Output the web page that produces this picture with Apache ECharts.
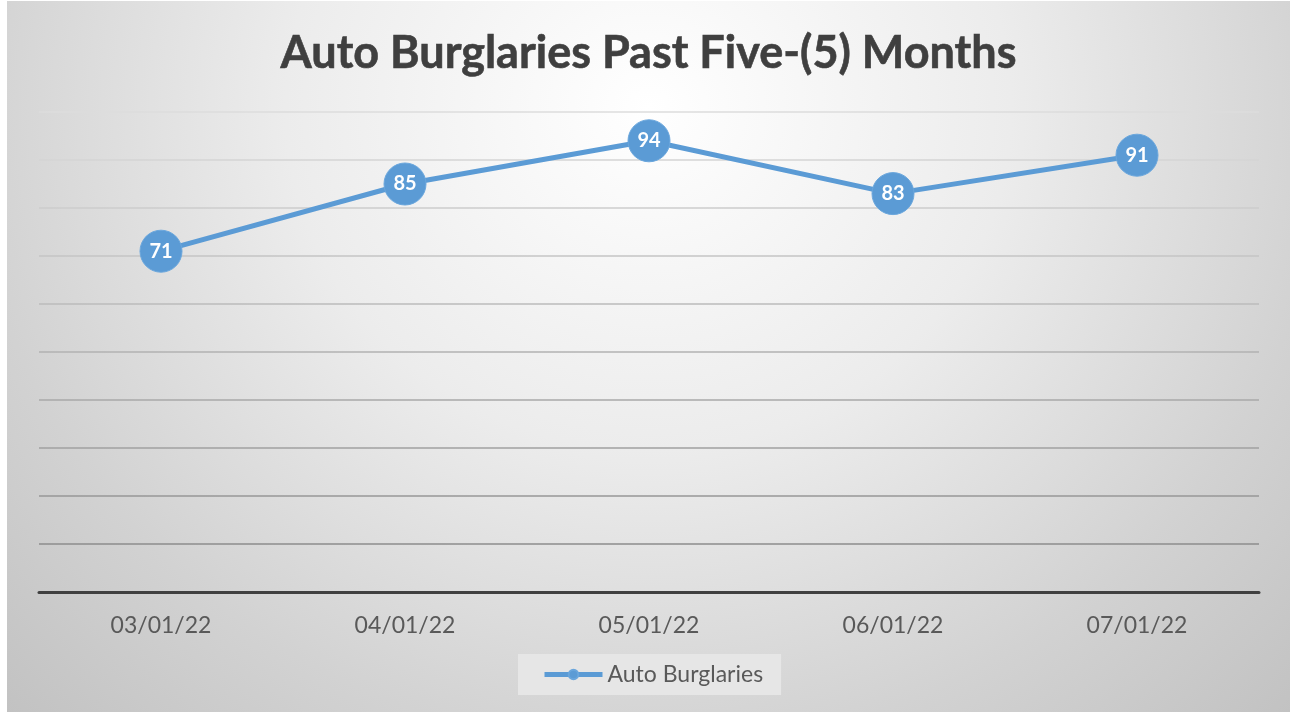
<!DOCTYPE html>
<html>
<head>
<meta charset="utf-8">
<title>Auto Burglaries</title>
<script src="https://cdn.jsdelivr.net/npm/echarts@6/dist/echarts.min.js"></script>
<style>
  html, body { margin: 0; padding: 0; background: #ffffff; }
  #chart {
    position: absolute;
    left: 7px;
    top: 1px;
    width: 1283px;
    height: 711px;
    background: radial-gradient(ellipse at 50% 15%, #ffffff 0%, #ececec 40%, #d2d2d2 75%, #c2c2c2 100%);
  }
</style>
</head>
<body>
<div id="chart"></div>
<script>
const months = ['03/01/22', '04/01/22', '05/01/22', '06/01/22', '07/01/22']
const burglaries = [71, 85, 94, 83, 91]
// gridlines go from dark at the bottom to light at the top
const gridColors = ['#8a8a8a', '#8c8c8c', '#979797', '#a0a0a0', '#a9a9a9', '#b2b2b2', '#bbbbbb', '#c4c4c4', '#cdcdcd', '#d5d5d5', '#dcdcdc']

const chart = echarts.init(document.getElementById('chart'))

chart.setOption({
  backgroundColor: 'transparent',
  animation: false,
  title: {
    text: 'Auto Burglaries Past Five-(5) Months',
    left: 'center',
    top: 21,
    textStyle: {
      fontFamily: 'Lato',
      fontWeight: 'bold',
      fontSize: 45,
      lineHeight: 52,
      color: '#3f3f3f',
      textBorderColor: '#3f3f3f',
      textBorderWidth: 0.6
    }
  },
  legend: {
    data: ['Auto Burglaries'],
    left: 511,
    top: 653,
    backgroundColor: '#e6e6e6',
    padding: [9, 18, 9, 24],
    itemWidth: 58,
    itemHeight: 12,
    lineStyle: { width: 5 },
    textStyle: { fontFamily: 'Lato', fontSize: 23, color: '#595959' }
  },
  grid: {
    left: 32,
    right: 31,
    top: 111,
    bottom: 120
  },
  xAxis: {
    type: 'category',
    data: months,
    boundaryGap: true,
    axisLine: { lineStyle: { color: '#404040', width: 3 } },
    axisTick: { show: false },
    axisLabel: { fontFamily: 'Lato', fontSize: 23, color: '#595959', margin: 22 }
  },
  yAxis: {
    type: 'value',
    min: 0,
    max: 100,
    interval: 10,
    axisLine: { show: false },
    axisTick: { show: false },
    axisLabel: { show: false },
    splitLine: { lineStyle: { color: gridColors, width: 1.5 } }
  },
  series: [
    {
      name: 'Auto Burglaries',
      type: 'line',
      data: burglaries,
      symbol: 'circle',
      symbolSize: 42,
      lineStyle: { color: '#5b9bd5', width: 5 },
      itemStyle: { color: '#5b9bd5', borderColor: '#6aa6dc', borderWidth: 1 },
      label: {
        show: true,
        position: 'inside',
        fontFamily: 'Lato',
        fontWeight: 'bold',
        fontSize: 20,
        color: '#ffffff'
      }
    }
  ]
})
</script>
</body>
</html>
